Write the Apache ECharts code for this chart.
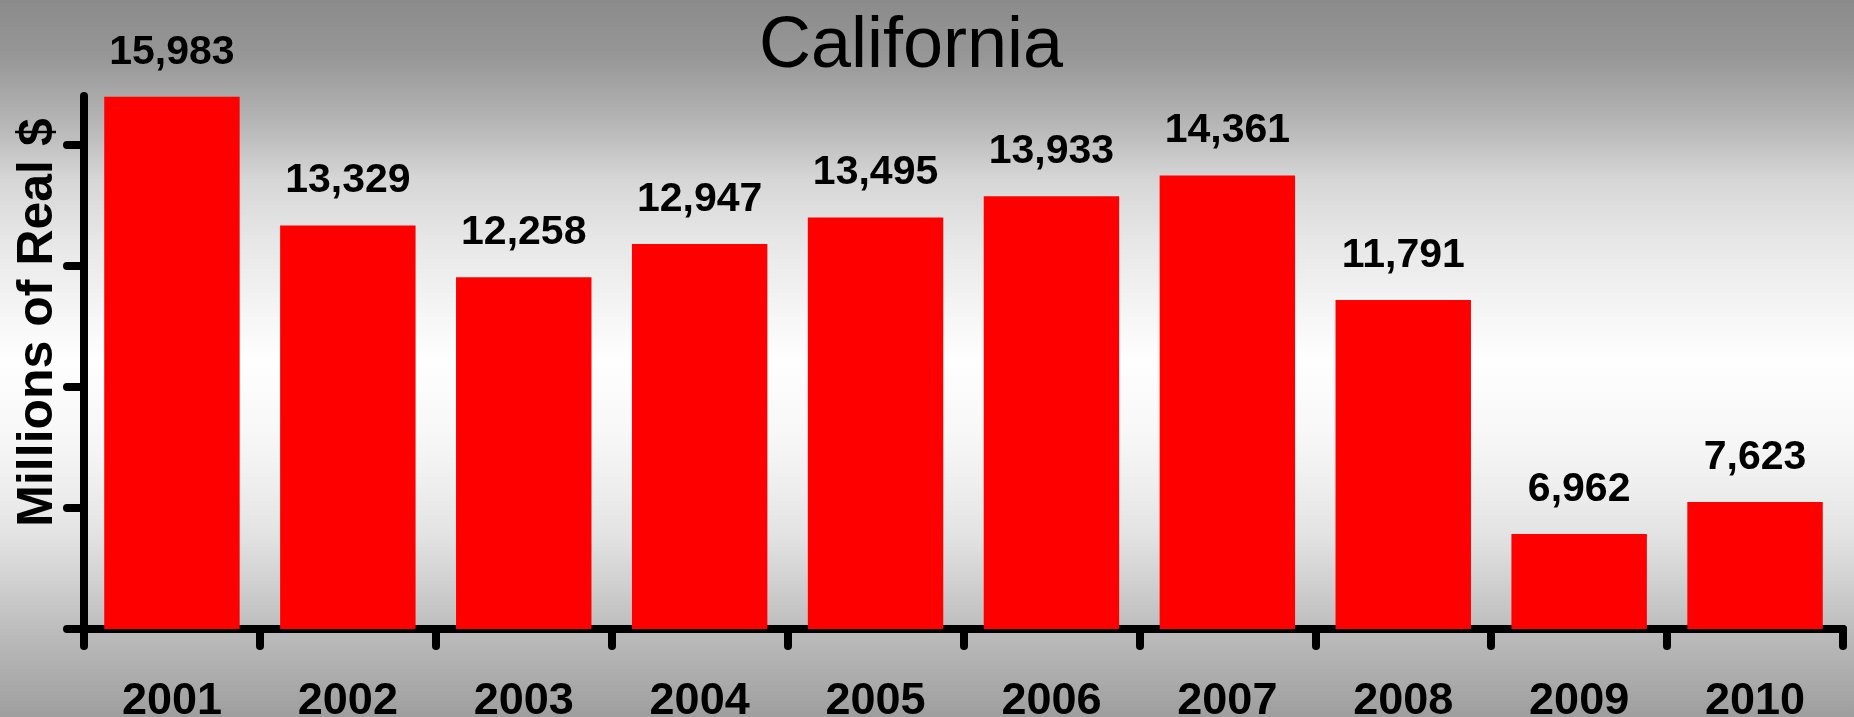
<!DOCTYPE html>
<html>
<head>
<meta charset="utf-8">
<script src="https://cdn.jsdelivr.net/npm/echarts@6/dist/echarts.min.js"></script>
<style>
html,body{margin:0;padding:0;}
#chart{width:1854px;height:717px;}
</style>
</head>
<body>
<div id="chart"></div>
<script>
var titleText = 'California';
var yAxisName = 'Millions of Real $';
var years = ['2001','2002','2003','2004','2005','2006','2007','2008','2009','2010'];
var values = [15983, 13329, 12258, 12947, 13495, 13933, 14361, 11791, 6962, 7623];
var yTicks = [5000, 7500, 10000, 12500, 15000];

var chart = echarts.init(document.getElementById('chart'));
chart.setOption({
  animation: false,
  backgroundColor: 'transparent',
  graphic: [{
    type: 'rect', z: -100, silent: true,
    shape: {x: 0, y: 0, width: 1854, height: 717},
    style: {fill: {type: 'linear', x: 0, y: 0, x2: 0, y2: 1, colorStops: [
      {offset: 0, color: '#8b8b8b'},
      {offset: 0.08, color: '#979797'},
      {offset: 0.17, color: '#b5b5b5'},
      {offset: 0.25, color: '#d6d6d6'},
      {offset: 0.33, color: '#e6e6e6'},
      {offset: 0.42, color: '#f3f3f3'},
      {offset: 0.5, color: '#fefefe'},
      {offset: 0.6, color: '#f8f8f8'},
      {offset: 0.68, color: '#eeeeee'},
      {offset: 0.75, color: '#e2e2e2'},
      {offset: 0.83, color: '#cbcbcb'},
      {offset: 0.88, color: '#bcbcbc'},
      {offset: 1, color: '#9e9e9e'}
    ]}}
  }],
  title: {
    text: titleText,
    left: 906, top: 6, textAlign: 'center',
    textStyle: {fontFamily: '"Liberation Sans",Arial,sans-serif', fontSize: 72, fontWeight: 'normal', color: '#000'}
  },
  grid: {left: 84, right: 11, top: 96, bottom: 88, containLabel: false, outerBoundsMode: 'none'},
  xAxis: {
    type: 'category', data: years,
    axisLine: {lineStyle: {color: '#000', width: 8, cap: 'round'}},
    axisTick: {show: true, length: 17, lineStyle: {color: '#000', width: 8, cap: 'round'}},
    axisLabel: {margin: 50, fontFamily: '"Liberation Sans",Arial,sans-serif', fontWeight: 'bold', fontSize: 45, color: '#000'}
  },
  yAxis: {
    type: 'value', min: 5000, max: 16000, interval: 2500,
    name: yAxisName, nameLocation: 'middle', nameRotate: 90, nameGap: 21,
    nameTextStyle: {fontFamily: '"Liberation Sans",Arial,sans-serif', fontWeight: 'bold', fontSize: 50, color: '#000', padding: [0, 0, 0, 80]},
    splitLine: {show: false},
    axisLabel: {show: false},
    axisLine: {show: true, lineStyle: {color: '#000', width: 8, cap: 'round'}},
    axisTick: {show: true, length: 17, customValues: yTicks, lineStyle: {color: '#000', width: 8, cap: 'round'}}
  },
  series: [{
    type: 'bar', data: values, barCategoryGap: '23%',
    itemStyle: {color: '#ff0000'},
    label: {
      show: true, position: 'top', distance: 24,
      fontFamily: '"Liberation Sans",Arial,sans-serif', fontWeight: 'bold', fontSize: 41, color: '#000',
      formatter: function (p) { return p.value.toLocaleString('en-US'); }
    }
  }]
});
</script>
</body>
</html>
